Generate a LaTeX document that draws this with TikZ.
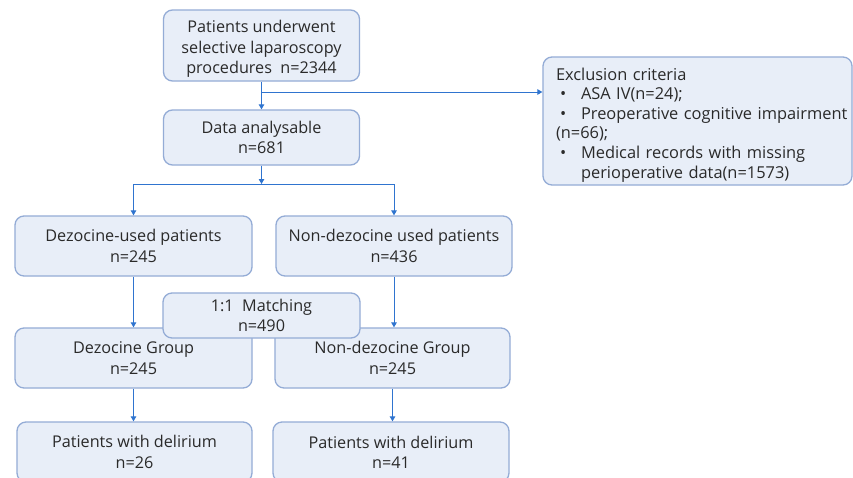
\documentclass[tikz,border=0pt]{standalone}
\usepackage{fontspec}
\setmainfont{Open Sans}
\usetikzlibrary{arrows.meta}
\definecolor{boxfill}{HTML}{E8EEF8}
\definecolor{boxline}{HTML}{94ACD6}
\definecolor{arr}{HTML}{2F74CF}
\definecolor{txt}{HTML}{2A2A2A}
\begin{document}
\begin{tikzpicture}[x=1pt,y=-1pt,
 box/.style={draw=boxline, fill=boxfill, line width=1.3pt, rounded corners=9pt, align=center, inner sep=0pt, text=txt, font=\fontsize{16.2}{20.3}\selectfont},
 conn/.style={draw=arr, line width=1pt},
 arrowc/.style={conn, -{Triangle[length=5pt,width=5.5pt]}}]
\useasboundingbox[fill=white] (0,0) rectangle (853,477);
\node[box, minimum width=196pt, minimum height=71pt] (top) at (261.5,45.5) {\rule{0pt}{19pt}Patients underwent\\selective laparoscopy\\procedures\ \ n=2344};
\node[box, minimum width=196pt, minimum height=55pt] (data) at (261.5,137.5) {Data analysable\\n=681};
\node[box, minimum width=309pt, minimum height=128pt, align=left, text width=283pt, inner xsep=13pt, font=\fontsize{16.4}{19.6}\selectfont] (excl) at (697.5,121) {\rule{0pt}{20pt}\mbox{Exclusion criteria}\\
\mbox{\makebox[25pt][l]{\hspace{4pt}•}ASA IV(n=24);}\\
\mbox{\makebox[25pt][l]{\hspace{4pt}•}Preoperative cognitive impairment}\\
\mbox{(n=66);}\\
\mbox{\makebox[25pt][l]{\hspace{4pt}•}Medical records with missing}\\
\mbox{\hspace{25pt}perioperative data(n=1573)}};
\node[box, minimum width=237pt, minimum height=60pt] (dzu) at (133.5,246) {Dezocine-used patients\\n=245};
\node[box, minimum width=236pt, minimum height=60pt] (ndzu) at (394,246) {Non-dezocine used patients\\n=436};
\node[box, minimum width=237pt, minimum height=60pt] (dzg) at (133.5,358) {Dezocine Group\\n=245};
\node[box, minimum width=235pt, minimum height=60pt] (ndzg) at (392.5,358) {Non-dezocine Group\\n=245};
\node[box, minimum width=197pt, minimum height=45pt] (match) at (261.5,315.5) {1:1\ \ Matching\\n=490};
\node[box, minimum width=235pt, minimum height=60pt] (dl) at (134.5,452) {Patients with delirium\\n=26};
\node[box, minimum width=236pt, minimum height=60pt] (dr) at (391,452) {Patients with delirium\\n=41};
\coordinate (j1) at (261.5,92);
\coordinate (j2) at (261.5,184);
\coordinate (jl) at (133.5,184);
\coordinate (jr) at (394,184);
\draw[conn] (top.south) -- (j1);
\draw[arrowc] (j1) -- (data.north);
\draw[arrowc] (j1) -- (j1 -| excl.west);
\draw[arrowc] (data.south) -- (j2);
\draw[conn] (jl) -- (jr);
\draw[arrowc] (jl) -- (dzu.north);
\draw[arrowc] (jr) -- (ndzu.north);
\draw[arrowc] (dzu.south) -- (dzg.north);
\draw[arrowc] (ndzu.south) -- (ndzu.south |- dzg.north);
\draw[arrowc] (dzg.south) -- (dzg.south |- dl.north);
\draw[arrowc] (ndzg.south) -- (ndzg.south |- dr.north);
\end{tikzpicture}
\end{document}
